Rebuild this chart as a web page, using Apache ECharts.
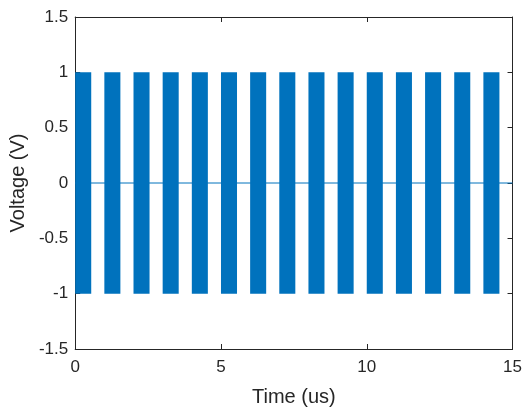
<!DOCTYPE html>
<html>
<head>
<meta charset="utf-8">
<script src="https://cdn.jsdelivr.net/npm/echarts@6/dist/echarts.min.js"></script>
<style>html,body{margin:0;padding:0;background:#fff;}#c{width:525px;height:412px;}</style>
</head>
<body>
<div id="c"></div>
<script>
// Burst envelope data (time in us, voltage in V)
var burstStart = [0, 1, 2, 3, 4, 5, 6, 7, 8, 9, 10, 11, 12, 13, 14];
var burstEnd   = [0.55, 1.55, 2.55, 3.55, 4.55, 5.55, 6.55, 7.55, 8.55, 9.55, 10.55, 11.55, 12.55, 13.55, 14.55];
var burstLow   = [-1, -1, -1, -1, -1, -1, -1, -1, -1, -1, -1, -1, -1, -1, -1];
var burstHigh  = [1, 1, 1, 1, 1, 1, 1, 1, 1, 1, 1, 1, 1, 1, 1];
var idleTime   = [0, 15];
var idleValue  = [0, 0];
var xTicks = [0, 5, 10, 15];
var yTicks = [-1.5, -1, -0.5, 0, 0.5, 1, 1.5];

var burstData = burstStart.map(function (s, i) { return [s, burstEnd[i], burstLow[i], burstHigh[i]]; });
var idleData = idleTime.map(function (t, i) { return [t, idleValue[i]]; });

var font = 'Liberation Sans, Arial, Helvetica, sans-serif';
var axisColor = '#262626';
var blue = '#0072BD';

var chart = echarts.init(document.getElementById('c'), null, {renderer: 'canvas'});
function axisCommon(show) {
  return {
    axisLine: {show: true, onZero: false, lineStyle: {color: axisColor, width: 1}},
    axisTick: {show: true, inside: true, length: 5, lineStyle: {color: axisColor}},
    splitLine: {show: false},
    axisLabel: {show: show, color: '#262626', fontFamily: font, fontSize: 17}
  };
}
var xb = Object.assign(axisCommon(true), {
  type: 'value', min: xTicks[0], max: xTicks[xTicks.length - 1], interval: 5, position: 'bottom',
  name: 'Time (us)', nameLocation: 'middle', nameGap: 38,
  nameTextStyle: {color: '#262626', fontFamily: font, fontSize: 20}
});
xb.axisLabel.margin = 10;
var xt = Object.assign(axisCommon(false), {
  type: 'value', min: xTicks[0], max: xTicks[xTicks.length - 1], interval: 5, position: 'top'
});
var yl = Object.assign(axisCommon(true), {
  type: 'value', min: yTicks[0], max: yTicks[yTicks.length - 1], interval: 0.5, position: 'left',
  name: 'Voltage (V)', nameLocation: 'middle', nameGap: 44,
  nameTextStyle: {color: '#262626', fontFamily: font, fontSize: 20}
});
yl.axisLabel.margin = 7;
var yr = Object.assign(axisCommon(false), {
  type: 'value', min: yTicks[0], max: yTicks[yTicks.length - 1], interval: 0.5, position: 'right'
});

chart.setOption({
  animation: false,
  backgroundColor: '#fff',
  grid: {left: 74, right: 10, top: 17, bottom: 57, containLabel: false},
  xAxis: [xb, xt],
  yAxis: [yl, yr],
  series: [
    {
      type: 'line', xAxisIndex: 0, yAxisIndex: 0, data: idleData, symbol: 'none',
      lineStyle: {color: blue, width: 1}, z: 1
    },
    {
      type: 'custom', xAxisIndex: 0, yAxisIndex: 0, data: burstData, z: 2,
      encode: {x: [0, 1], y: [2, 3]},
      renderItem: function (params, api) {
        var p1 = api.coord([api.value(0), api.value(3)]);
        var p2 = api.coord([api.value(1), api.value(2)]);
        return {
          type: 'rect',
          shape: {x: p1[0], y: p1[1], width: p2[0] - p1[0], height: p2[1] - p1[1]},
          style: {fill: blue}
        };
      }
    }
  ]
});
</script>
</body>
</html>
